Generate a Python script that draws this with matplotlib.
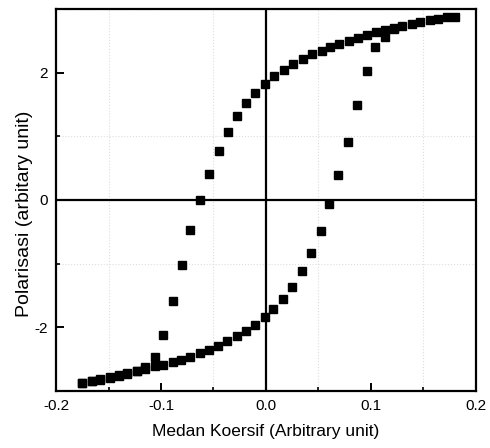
import matplotlib
matplotlib.use('Agg')
import matplotlib.pyplot as plt
from matplotlib.ticker import MultipleLocator

plt.rcParams['font.family'] = ['Liberation Sans', 'DejaVu Sans']

# descending branch (from +H to -H)
x_down = [0.180, 0.172, 0.164, 0.156, 0.147, 0.139, 0.130, 0.122, 0.113, 0.105,
          0.096, 0.088, 0.079, 0.070, 0.061, 0.053, 0.044, 0.035, 0.026, 0.017,
          0.008, -0.001, -0.010, -0.019, -0.028, -0.036, -0.045, -0.054, -0.063,
          -0.072, -0.080, -0.089, -0.098, -0.106, -0.115, -0.123, -0.132, -0.140,
          -0.149, -0.158, -0.166, -0.175]
y_down = [2.88, 2.875, 2.85, 2.82, 2.80, 2.77, 2.73, 2.70, 2.67, 2.64,
          2.59, 2.55, 2.50, 2.45, 2.40, 2.34, 2.29, 2.21, 2.13, 2.04,
          1.94, 1.82, 1.68, 1.52, 1.32, 1.07, 0.77, 0.41, 0.00,
          -0.47, -1.02, -1.59, -2.12, -2.46, -2.62, -2.68, -2.72, -2.75,
          -2.78, -2.81, -2.84, -2.87]

# ascending branch (from -H to +H)
x_up = [-0.175, -0.166, -0.158, -0.149, -0.140, -0.132, -0.123, -0.115, -0.106,
        -0.098, -0.089, -0.081, -0.072, -0.063, -0.054, -0.046, -0.037, -0.028,
        -0.019, -0.010, -0.001, 0.007, 0.016, 0.025, 0.034, 0.043, 0.052, 0.060,
        0.069, 0.078, 0.087, 0.096, 0.104, 0.113, 0.122]
y_up = [-2.88, -2.85, -2.82, -2.79, -2.76, -2.73, -2.69, -2.65, -2.61,
        -2.59, -2.55, -2.51, -2.46, -2.40, -2.35, -2.29, -2.22, -2.14,
        -2.05, -1.97, -1.84, -1.71, -1.55, -1.36, -1.12, -0.84, -0.49, -0.07,
        0.39, 0.91, 1.49, 2.03, 2.40, 2.56, 2.68]

fig = plt.figure(figsize=(4.9, 4.48), dpi=100)
ax = fig.add_axes([0.1143, 0.1272, 0.8571, 0.8528])

ax.axhline(0, color='black', lw=1.6, zorder=1)
ax.axvline(0, color='black', lw=1.6, zorder=1)

ax.plot(x_down, y_down, 's', color='black', ms=5.3, zorder=3)
ax.plot(x_up, y_up, 's', color='black', ms=5.3, zorder=3)

ax.set_xlim(-0.2, 0.2)
ax.set_ylim(-3, 3)
ax.xaxis.set_minor_locator(MultipleLocator(0.05))
ax.yaxis.set_minor_locator(MultipleLocator(1))
ax.set_xticks([-0.2, -0.1, 0.0, 0.1, 0.2])
ax.set_xticklabels(['-0.2', '-0.1', '0.0', '0.1', '0.2'])
ax.set_yticks([-2, 0, 2])
ax.set_yticklabels(['-2', '0', '2'])

ax.grid(which='minor', color='#dddddd', ls=':', lw=0.8)
ax.set_axisbelow(True)

ax.tick_params(which='major', direction='in', length=5.5, width=1.4,
               labelsize=11, pad=6)
ax.tick_params(which='minor', direction='in', length=3, width=1.2)
for s in ax.spines.values():
    s.set_linewidth(1.6)

ax.set_xlabel('Medan Koersif (Arbitrary unit)', fontsize=12.5, labelpad=8)
ax.set_ylabel('Polarisasi (arbitary unit)', fontsize=14)
ax.yaxis.set_label_coords(-0.055, 0.463)

fig.savefig('out.png', dpi=100)
